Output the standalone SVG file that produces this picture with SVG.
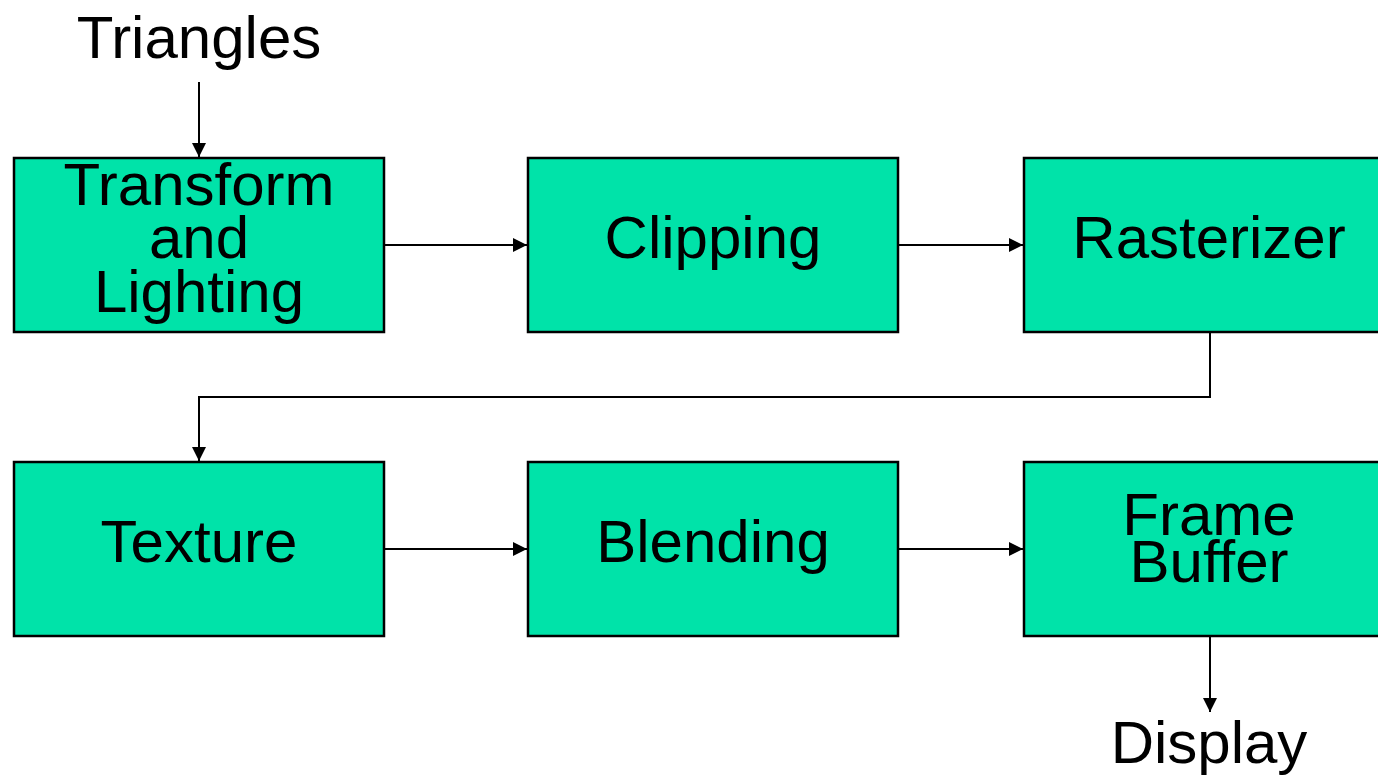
<svg xmlns="http://www.w3.org/2000/svg" width="1378" height="778" viewBox="0 0 1378 778">
<style>
.box{fill:#00E3A9;stroke:#000;stroke-width:2.5}
.t{font-family:"Liberation Sans",Arial,sans-serif;font-size:60px;fill:#000;text-anchor:middle}
.c{fill:none;stroke:#000;stroke-width:2}
</style>
<defs>
<marker id="ah" viewBox="0 0 10 10" refX="10" refY="5" markerWidth="7" markerHeight="7" markerUnits="strokeWidth" orient="auto">
<path d="M0,0 L10,5 L0,10 z" fill="#000"/>
</marker>
</defs>
<rect width="1378" height="778" fill="#fff"/>
<g id="triangles"><text class="t" x="199" y="58">Triangles</text></g>
<g id="transform">
<rect class="box" x="14" y="158" width="370" height="174"/>
<text class="t" x="199" y="205">Transform</text>
<text class="t" x="199" y="258">and</text>
<text class="t" x="199" y="312">Lighting</text>
</g>
<g id="clipping">
<rect class="box" x="528" y="158" width="370" height="174"/>
<text class="t" x="713" y="258">Clipping</text>
</g>
<g id="rasterizer">
<rect class="box" x="1024" y="158" width="370" height="174"/>
<text class="t" x="1209" y="258">Rasterizer</text>
</g>
<g id="texture">
<rect class="box" x="14" y="462" width="370" height="174"/>
<text class="t" x="199" y="562">Texture</text>
</g>
<g id="blending">
<rect class="box" x="528" y="462" width="370" height="174"/>
<text class="t" x="713" y="562">Blending</text>
</g>
<g id="framebuffer">
<rect class="box" x="1024" y="462" width="370" height="174"/>
<text class="t" x="1209" y="535">Frame</text>
<text class="t" x="1209" y="582">Buffer</text>
</g>
<g id="display"><text class="t" x="1209" y="763">Display</text></g>
<g id="connectors">
<path class="c" d="M199,82 V157" marker-end="url(#ah)"/>
<path class="c" d="M385,245 H527" marker-end="url(#ah)"/>
<path class="c" d="M899,245 H1023" marker-end="url(#ah)"/>
<path class="c" d="M1210,333 V397 H199 V461" marker-end="url(#ah)"/>
<path class="c" d="M385,549 H527" marker-end="url(#ah)"/>
<path class="c" d="M899,549 H1023" marker-end="url(#ah)"/>
<path class="c" d="M1210,637 V712" marker-end="url(#ah)"/>
</g>
</svg>
